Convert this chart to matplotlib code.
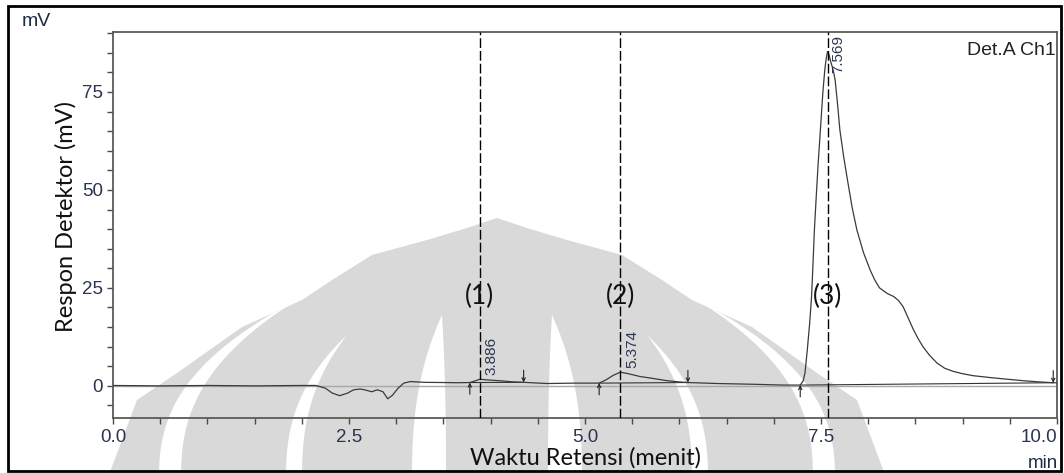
import matplotlib
matplotlib.use("Agg")
import matplotlib.pyplot as plt
from matplotlib.patches import Polygon, Rectangle
from matplotlib.ticker import MultipleLocator, FixedLocator
import numpy as np

# ---------------- chromatogram data ----------------
time_min = [0.0, 0.5, 1.0, 1.5, 2.0, 2.15, 2.25, 2.32, 2.40, 2.48, 2.55, 2.62,
            2.68, 2.74, 2.80, 2.86, 2.91, 2.96, 3.02, 3.08, 3.15, 3.30, 3.50,
            3.65, 3.78, 3.84, 3.886, 3.95, 4.10, 4.25, 4.35, 4.60, 4.90, 5.15,
            5.22, 5.30, 5.374, 5.46, 5.58, 5.72, 5.86, 6.00, 6.09, 6.40, 6.80,
            7.10, 7.28, 7.31, 7.33, 7.355, 7.38, 7.40, 7.415, 7.43, 7.45, 7.47,
            7.49, 7.505, 7.52, 7.54, 7.555, 7.569, 7.585, 7.60, 7.63, 7.65,
            7.675, 7.70, 7.74, 7.78, 7.83, 7.88, 7.95, 8.02, 8.07, 8.12, 8.20,
            8.27, 8.32, 8.37, 8.42, 8.48, 8.53, 8.58, 8.65, 8.73, 8.81, 8.90,
            9.00, 9.11, 9.30, 9.47, 9.65, 9.82, 9.96, 10.0]
signal_mv = [0.1, 0.0, 0.1, 0.0, 0.1, 0.1, -0.6, -1.8, -2.5, -1.9, -1.0, -0.8,
             -1.1, -1.5, -1.0, -1.5, -3.3, -2.4, -0.6, 0.7, 1.1, 0.9, 0.85,
             0.8, 0.85, 1.3, 1.7, 1.55, 1.3, 1.0, 0.9, 0.6, 0.7, 0.7,
             1.5, 2.7, 3.5, 3.1, 2.4, 1.9, 1.35, 1.0, 0.85, 0.6, 0.4,
             0.2, 0.2, 1.2, 3.2, 9.2, 16.0, 22.8, 31.0, 39.8, 48.5, 56.8,
             64.0, 69.5, 75.0, 80.6, 83.5, 85.3, 84.5, 83.0, 80.5, 78.0,
             72.0, 65.3, 58.5, 52.6, 45.5, 39.8, 34.0, 29.6, 27.0, 25.0, 23.6,
             22.8, 21.8, 20.2, 17.5, 14.3, 12.0, 10.0, 7.8, 5.8, 4.5, 3.7,
             3.1, 2.6, 2.1, 1.7, 1.3, 1.0, 0.8, 0.8]

peak_names = ["(1)", "(2)", "(3)"]
retention_times = [3.886, 5.374, 7.569]
peak_start = [3.78, 5.15, 7.28]
peak_start_level = [0.85, 0.7, 0.2]
peak_end = [4.35, 6.09, 9.96]
peak_end_level = [0.9, 0.85, 0.8]
peak_name_level = 22.7

x_major = [0.0, 2.5, 5.0, 7.5, 10.0]
x_major_labels = ["0.0", "2.5", "5.0", "7.5", "10.0"]
y_major = [0, 25, 50, 75]

# ---------------- figure ----------------
W, H = 1064, 473
fig = plt.figure(figsize=(W / 100, H / 100), dpi=100)

# background watermark layer, in pixel coordinates
bg = fig.add_axes([0, 0, 1, 1], zorder=0)
bg.set_xlim(0, W)
bg.set_ylim(H, 0)
bg.axis("off")

GREY = "#d9d9d9"
cx = 497

def mirror(pts):
    left = [(cx - w, y) for w, y in pts]
    right = [(cx + w, y) for w, y in reversed(pts)]
    return left + right

# outer silhouette (half-width, y)
silhouette = [(0, 218), (30, 228), (70, 240), (125, 255), (165, 280), (195, 300),
              (255, 327), (320, 373), (360, 400), (375, 440), (390, 480)]
bg.add_patch(Polygon(mirror(silhouette), closed=True, fc=GREY, ec="none"))

def crescent(h_top, y_top, a_out, a_in, y_bot=480, n=40):
    s = np.linspace(0, 1, n)
    f = 1 - (1 - s) ** 2.5
    y = y_top + (y_bot - y_top) * s
    outer = h_top + (a_out - h_top) * f
    inner = h_top + (a_in - h_top) * f
    left = list(zip(cx - outer, y)) + list(zip(cx - inner[::-1], y[::-1]))
    right = list(zip(cx + outer, y)) + list(zip(cx + inner[::-1], y[::-1]))
    return left, right

for h_top, y_top, a_out, a_in in [(200, 300, 338, 316), (150, 335, 211, 195), (55, 315, 85, 51)]:
    for side in crescent(h_top, y_top, a_out, a_in):
        bg.add_patch(Polygon(side, closed=True, fc="white", ec="none"))

# frame around the whole figure
bg.add_patch(Rectangle((8, 6), 1053, 465, fill=False, ec="black", lw=2.0))

# ---------------- plot axes ----------------
ax = fig.add_axes([113 / W, 1 - 418 / H, 944 / W, 386 / H], zorder=1)
ax.patch.set_alpha(0)
ax.set_xlim(0, 10)
ax.set_ylim(-8.2, 90.3)

# zero line and signal
ax.axhline(0, color="#a8a8a8", lw=1.0, zorder=1)
ax.plot(time_min, signal_mv, color="#3a3a3a", lw=0.9, zorder=3)

# integration baselines and start/end markers
for ts, ys, te, ye in zip(peak_start, peak_start_level, peak_end, peak_end_level):
    ax.plot([ts, te], [ys, ye], color="#333333", lw=0.8, zorder=2)
    ax.annotate("", xy=(ts, ys), xytext=(ts, ys - 3.0),
                arrowprops=dict(arrowstyle="->", lw=0.8, color="#222222",
                                shrinkA=0, shrinkB=0, mutation_scale=6))
    ax.annotate("", xy=(te, ye), xytext=(te, ye + 3.1),
                arrowprops=dict(arrowstyle="->", lw=0.8, color="#222222",
                                shrinkA=0, shrinkB=0, mutation_scale=6))

# retention-time lines and labels
for name, rt in zip(peak_names, retention_times):
    apex = signal_mv[time_min.index(rt)]
    ax.axvline(rt, color="black", lw=1.0, dashes=(7, 2.2), zorder=4)
    if apex > 60:
        ax.annotate(f"{rt:.3f}", xy=(rt, 1.0), xycoords=("data", "axes fraction"),
                    xytext=(8, -2), textcoords="offset points", rotation=90,
                    ha="center", va="top", fontsize=11, color="#2b3550",
                    family="Liberation Sans")
    else:
        ax.annotate(f"{rt:.3f}", xy=(rt, apex), xytext=(8.5, 3),
                    textcoords="offset points", rotation=90,
                    ha="center", va="bottom", fontsize=11, color="#2b3550",
                    family="Liberation Sans")
    ax.text(rt, peak_name_level, name, ha="center", va="center",
            fontsize=19, family="Lato", color="#111111", zorder=5)

# axes styling
for sp in ax.spines.values():
    sp.set_color("#5a5a5a")
    sp.set_linewidth(1.3)

ax.xaxis.set_major_locator(FixedLocator(x_major))
ax.set_xticklabels(x_major_labels)
ax.xaxis.set_minor_locator(MultipleLocator(0.5))
ax.yaxis.set_major_locator(FixedLocator(y_major))
ax.yaxis.set_minor_locator(MultipleLocator(5))
ax.tick_params(which="both", direction="out", length=4.3, width=1.0,
               color="#4a4a4a", top=False, right=False)
ax.tick_params(axis="x", labelsize=13.5, labelcolor="#2b3550", pad=3.8)
ax.tick_params(axis="y", labelsize=13.5, labelcolor="#2b3550", pad=3.0)
for lab in ax.get_xticklabels() + ax.get_yticklabels():
    lab.set_family("Liberation Sans")
ax.get_xticklabels()[-1].set_horizontalalignment("right")

# unit captions and channel name
fig.text(22 / W, 1 - 22 / H, "mV", ha="left", va="center", fontsize=14,
         family="Liberation Sans", color="#1e2a44")
fig.text(1058 / W, 1 - 463 / H, "min", ha="right", va="center", fontsize=13.5,
         family="Liberation Sans", color="#1e2a44")
ax.text(0.999, 0.975, "Det.A Ch1", transform=ax.transAxes, ha="right", va="top",
        fontsize=14, family="Liberation Sans", color="#222222")

# axis titles
fig.text(586 / W, 1 - 458 / H, "Waktu Retensi (menit)", ha="center", va="center",
         fontsize=17, family="Lato", color="#111111")
fig.text(66 / W, 1 - 217 / H, "Respon Detektor (mV)", ha="center", va="center",
         rotation=90, fontsize=17, family="Lato", color="#111111")

fig.savefig("out.png", dpi=100)
